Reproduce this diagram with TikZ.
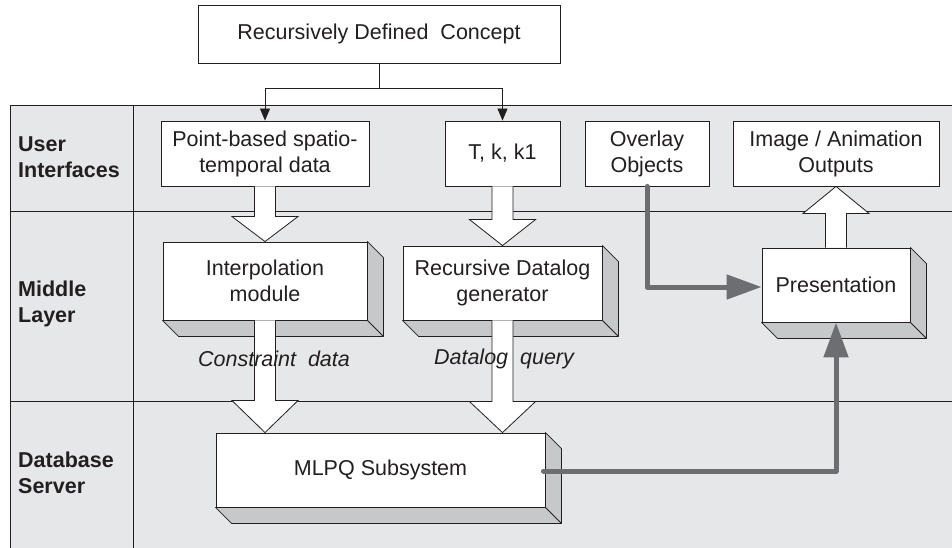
\documentclass[tikz,border=0pt]{standalone}
\usepackage{fontspec}
\setmainfont{Liberation Sans}
\usetikzlibrary{calc,arrows.meta}
\definecolor{panel}{HTML}{E6E7E8}
\definecolor{side}{HTML}{C7C8CA}
\definecolor{thickgrey}{HTML}{6D6E71}
\definecolor{ink}{HTML}{231F20}
\newcommand\sidefaces[1]{%
  \draw[sideface] (#1.north east) -- ($(#1.north east)+(16,16)$) -- ($(#1.south east)+(16,16)$) -- ($(#1.south west)+(16,16)$) -- (#1.south west) -- (#1.south east) -- cycle;
  \draw[sideface] (#1.south east) -- ($(#1.south east)+(16,16)$);}
\newcommand\hollowarrow[3]{%
  \draw[hollow] ($(#1)+(-10.5,0)$) -- ($(#2)+(-10.5,#3)$) -- ($(#2)+(-33,#3)$) -- (#2) -- ($(#2)+(33,#3)$) -- ($(#2)+(10.5,#3)$) -- ($(#1)+(10.5,0)$);}
\begin{document}
\begin{tikzpicture}[x=1pt,y=-1pt,
  txt/.style={text=ink, font=\fontsize{21.5pt}{26pt}\selectfont},
  box/.style={txt, draw=ink, fill=white, line width=0.9pt, inner sep=0pt, align=center},
  sideface/.style={draw=ink, fill=side, line width=0.8pt, line join=round},
  hollow/.style={draw=ink, fill=white, line width=0.8pt},
  gridline/.style={draw=ink, line width=0.9pt},
  layerlabel/.style={txt, font=\fontsize{21.5pt}{26pt}\selectfont\bfseries, anchor=west, align=left, inner sep=0pt},
  flowlabel/.style={txt, font=\fontsize{21.5pt}{26pt}\selectfont\itshape, inner sep=0pt},
  thinconn/.style={draw=ink, line width=0.9pt, -{Triangle[length=12pt,width=10pt]}},
  thickconn/.style={draw=thickgrey, line width=5pt, line cap=round, line join=round, -{Triangle[length=35pt,width=24pt]}}]
\useasboundingbox (0,0) rectangle (952,548);
% panel
\fill[panel] (10,105) rectangle (952,548);
\draw[gridline] (952,105) -- (10,105) -- (10,548);
\draw[gridline] (133,105) -- (133,548);
\draw[gridline] (10,211) -- (952,211);
\draw[gridline] (10,401) -- (952,401);
% layer labels
\node[layerlabel] (lui) at (18,157) {User\\Interfaces};
\node[layerlabel] (lml) at (18,304) {Middle\\Layer};
\node[layerlabel] (lds) at (18,473) {Database\\Server};
% boxes
\node[box, minimum width=362, minimum height=58] (top) at (379,34) {Recursively Defined~ Concept};
\node[box, minimum width=208, minimum height=65] (pb) at (265,153.5) {Point-based spatio-\\temporal data};
\node[box, minimum width=115, minimum height=65] (tk) at (502.5,153.5) {T, k, k1};
\node[box, minimum width=124, minimum height=65] (ov) at (647,153.5) {Overlay\\Objects};
\node[box, minimum width=206, minimum height=65] (img) at (836,153.5) {Image / Animation\\Outputs};
\node[box, minimum width=204, minimum height=78] (interp) at (265,281) {Interpolation\\module};
\node[box, minimum width=199, minimum height=74] (rdg) at (502.5,283) {Recursive Datalog\\generator};
\node[box, minimum width=148, minimum height=74] (pres) at (836,285) {Presentation};
\node[box, minimum width=329, minimum height=74] (mlpq) at (380.5,470) {MLPQ Subsystem};
\sidefaces{interp}
\sidefaces{rdg}
\sidefaces{pres}
\sidefaces{mlpq}
% thin connectors
\draw[thinconn] (top.south) -- ++(0,25) -| (pb.north);
\draw[thinconn] (top.south) -- ++(0,25) -| (tk.north);
% hollow arrows
\coordinate (t1) at (interp.south |- mlpq.north);
\coordinate (t2) at (rdg.south |- mlpq.north);
\hollowarrow{pb.south}{interp.north}{-25}
\hollowarrow{tk.south}{rdg.north}{-26}
\hollowarrow{interp.south}{t1}{-32}
\hollowarrow{rdg.south}{t2}{-31}
\hollowarrow{pres.north}{img.south}{27}
% flow labels
\node[flowlabel] (cd) at (274,359) {Constraint~ data};
\node[flowlabel] (dq) at (504,359) {Datalog~ query};
% thick connectors
\draw[thickconn] (ov.south) |- ($(pres.west)+(0,2)$);
\draw[thickconn] ($(mlpq.east)+(-2,1)$) -| (pres.south);
\end{tikzpicture}
\end{document}
